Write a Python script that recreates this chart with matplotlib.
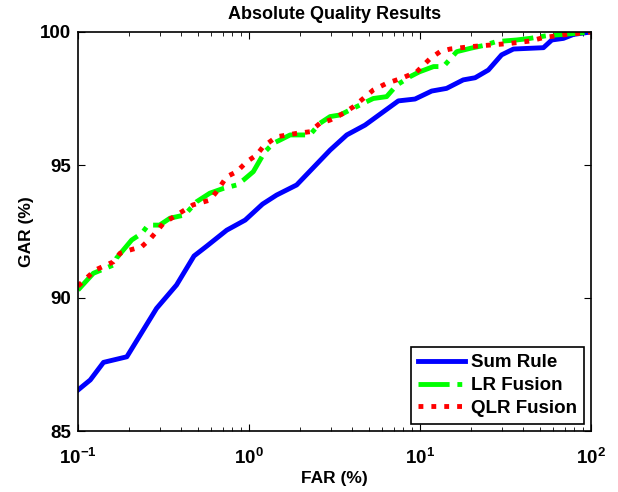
import numpy as np
import matplotlib.pyplot as plt

plt.rcParams['font.family'] = ['Liberation Sans', 'DejaVu Sans']
plt.rcParams['font.weight'] = 'bold'

# Sum Rule
far_sum = [0.1, 0.118, 0.141, 0.193, 0.288, 0.377, 0.477, 0.566, 0.741, 0.95,
           1.2, 1.45, 1.9, 2.98, 3.73, 4.77, 7.47, 9.35, 11.7, 14.3, 17.9,
           21, 25.1, 30, 35.2, 52.7, 59, 69, 79, 100]
gar_sum = [86.54, 86.92, 87.58, 87.79, 89.61, 90.49, 91.58, 91.95, 92.55, 92.93,
           93.53, 93.87, 94.25, 95.56, 96.13, 96.5, 97.41, 97.48, 97.78, 97.88, 98.2,
           98.28, 98.57, 99.14, 99.36, 99.41, 99.7, 99.76, 99.91, 100]

# LR Fusion
far_lr = [0.1, 0.123, 0.161, 0.168, 0.206, 0.236, 0.257, 0.3, 0.345, 0.42,
          0.494, 0.59, 0.708, 0.848, 0.93, 1.06, 1.19, 1.24, 1.39, 1.52, 1.74,
          2.27, 2.6, 2.98, 3.4, 3.9, 4.66, 5.33, 6.38, 7.3, 8.74, 9.9, 12, 13.7,
          16.4, 19.8, 23.4, 28, 36.7, 44, 55, 69, 100]
gar_lr = [90.3, 90.93, 91.24, 91.5, 92.18, 92.43, 92.74, 92.74, 93.0, 93.12,
          93.62, 93.94, 94.12, 94.25, 94.44, 94.75, 95.31, 95.5, 95.82, 95.94, 96.13,
          96.13, 96.57, 96.82, 96.88, 97.07, 97.32, 97.5, 97.57, 98.0, 98.32, 98.5, 98.7, 98.7,
          99.26, 99.39, 99.49, 99.64, 99.7, 99.76, 99.86, 99.91, 100]

# QLR Fusion
far_qlr = [0.1, 0.126, 0.161, 0.176, 0.2, 0.236, 0.266, 0.316, 0.377, 0.47,
           0.59, 0.647, 0.741, 0.848, 0.97, 1.11, 1.21, 1.45, 1.9, 2.27, 2.6,
           2.98, 3.56, 4.08, 4.66, 5.33, 6.38, 7.8, 9.56, 11.5, 13.1, 15, 19.8,
           25.8, 33.5, 44, 52.7, 69, 100]
gar_qlr = [90.45, 91.05, 91.36, 91.68, 91.8, 91.93, 92.24, 92.81, 93.12, 93.5,
           93.68, 94.0, 94.56, 94.75, 95.12, 95.38, 95.69, 96.06, 96.19, 96.25, 96.57,
           96.69, 96.94, 97.19, 97.5, 97.82, 98.07, 98.26, 98.5, 99.01, 99.26, 99.36, 99.45,
           99.51, 99.57, 99.66, 99.79, 99.89, 100]

fig = plt.figure(figsize=(6.18, 4.92), dpi=100)
ax = fig.add_axes([78 / 618, 1 - 431 / 492, 513 / 618, 399 / 492])

ax.semilogx(far_sum, gar_sum, color='#0000ff', lw=3.5, label='Sum Rule')
ax.semilogx(far_lr, gar_lr, color='#00ff00', lw=3.5, ls='-.', label='LR Fusion')
ax.semilogx(far_qlr, gar_qlr, color='#ff0000', lw=3.5, ls=':', label='QLR Fusion')

ax.set_xlim(0.1, 100)
ax.set_ylim(85, 100)
ax.set_yticks([85, 90, 95, 100])
ax.tick_params(which='both', direction='in', top=True, right=True, labelsize=13.5)
ax.tick_params(which='major', length=5)
ax.tick_params(which='minor', length=3)
ax.tick_params(axis='x', which='major', pad=12)
ax.tick_params(axis='y', which='major', pad=5)
for s in ax.spines.values():
    s.set_linewidth(1.2)

ax.set_title('Absolute Quality Results', fontsize=13, fontweight='bold', pad=9)
ax.set_xlabel('FAR (%)', fontsize=12.5, fontweight='bold', labelpad=2)
ax.set_ylabel('GAR (%)', fontsize=12.5, fontweight='bold', labelpad=4)

leg = ax.legend(loc='lower right', fontsize=13.5, fancybox=False, framealpha=1,
                edgecolor='black', borderaxespad=0.35, handlelength=2.5,
                handletextpad=0.3, labelspacing=0.3, borderpad=0.4)
leg.get_frame().set_linewidth(1.2)

fig.savefig('out.png', dpi=100)
